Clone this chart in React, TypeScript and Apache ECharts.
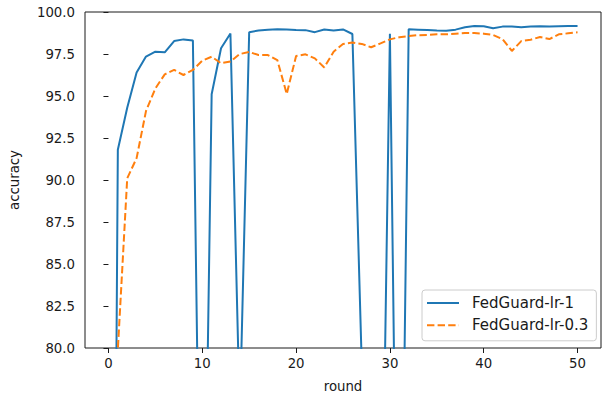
import React, { useEffect, useRef } from 'react';
import * as echarts from 'echarts';

const rounds = [
  0, 1, 2, 3, 4, 5, 6, 7, 8, 9, 10, 11, 12, 13, 14, 15, 16, 17, 18, 19, 20, 21, 22, 23, 24, 25,
  26, 27, 28, 29, 30, 31, 32, 33, 34, 35, 36, 37, 38, 39, 40, 41, 42, 43, 44, 45, 46, 47, 48, 49, 50,
];

const fedGuardLr1 = [
  10, 91.8, 94.3, 96.4, 97.35, 97.64, 97.6, 98.27, 98.37, 98.3,
  58, 95.1, 97.84, 98.72, 76, 98.8, 98.9, 98.95, 98.98, 98.96,
  98.93, 98.92, 98.8, 98.96, 98.9, 98.96, 98.69, 79, 40, 62,
  98.7, 55, 98.97, 98.95, 98.93, 98.9, 98.89, 98.95, 99.09, 99.17,
  99.15, 99.03, 99.13, 99.13, 99.09, 99.13, 99.15, 99.13, 99.15, 99.17, 99.17,
];

const fedGuardLr03 = [
  10, 79.9, 90.1, 91.3, 94.1, 95.45, 96.29, 96.55, 96.25, 96.55,
  97.1, 97.34, 96.95, 97.05, 97.5, 97.62, 97.44, 97.44, 97.14, 95.12,
  97.38, 97.48, 97.24, 96.7, 97.64, 98.1, 98.18, 98.1, 97.9, 98.13,
  98.37, 98.5, 98.57, 98.62, 98.63, 98.67, 98.67, 98.71, 98.75, 98.75,
  98.71, 98.63, 98.39, 97.68, 98.27, 98.35, 98.51, 98.39, 98.67, 98.73, 98.79,
];

const xTicks = [0, 10, 20, 30, 40, 50];

const FONT = 'DejaVu Sans';

export default function App() {
  const ref = useRef<HTMLDivElement>(null);

  useEffect(() => {
    if (!ref.current) return;
    const chart = echarts.init(ref.current, undefined, { renderer: 'svg' });
    const option: any = {
      animation: false,
      textStyle: { fontFamily: FONT },
      grid: {
        left: 85,
        right: 3,
        top: 12,
        bottom: 46,
        outerBoundsMode: 'none',
        containLabel: false,
        show: true,
        borderColor: '#1a1a1a',
        borderWidth: 1,
        backgroundColor: 'transparent',
      },
      xAxis: {
        type: 'value',
        min: -2.5,
        max: 52.5,
        axisLine: { show: false },
        splitLine: { show: false },
        axisTick: { show: true, length: 5, lineStyle: { color: '#1a1a1a' }, customValues: xTicks },
        axisLabel: {
          customValues: xTicks,
          margin: 9,
          fontSize: 13.3,
          color: '#1a1a1a',
          fontFamily: FONT,
        },
        name: 'round',
        nameLocation: 'middle',
        nameGap: 32,
        nameTextStyle: { fontSize: 13.3, lineHeight: 12, color: '#1a1a1a', fontFamily: FONT },
      },
      yAxis: {
        type: 'value',
        min: 80,
        max: 100,
        interval: 2.5,
        axisLine: { show: false },
        splitLine: { show: false },
        axisTick: { show: true, length: 5, lineStyle: { color: '#1a1a1a' } },
        axisLabel: {
          formatter: (v: number) => v.toFixed(1),
          margin: 10,
          fontSize: 13.3,
          color: '#1a1a1a',
          fontFamily: FONT,
        },
        name: 'accuracy',
        nameLocation: 'middle',
        nameGap: 64,
        nameRotate: 90,
        nameTextStyle: { fontSize: 13.3, color: '#1a1a1a', fontFamily: FONT },
      },
      legend: {
        orient: 'vertical',
        left: 422,
        top: 290,
        itemWidth: 32,
        itemHeight: 15,
        itemGap: 7.3,
        padding: [5.5, 8, 8, 4],
        borderColor: '#cccccc',
        borderWidth: 1,
        borderRadius: 3,
        backgroundColor: 'rgba(255,255,255,0.8)',
        itemStyle: { opacity: 0 },
        textStyle: { fontSize: 15, lineHeight: 15, color: '#1a1a1a', fontFamily: FONT, padding: [0, 0, 0, 8] },
        data: ['FedGuard-lr-1', 'FedGuard-lr-0.3'],
      },
      series: [
        {
          name: 'FedGuard-lr-1',
          type: 'line',
          data: rounds.map((r, i) => [r, fedGuardLr1[i]]),
          symbol: 'none',
          showSymbol: false,
          clip: true,
          lineStyle: { color: '#1f77b4', width: 2 },
          itemStyle: { color: '#1f77b4' },
        },
        {
          name: 'FedGuard-lr-0.3',
          type: 'line',
          data: rounds.map((r, i) => [r, fedGuardLr03[i]]),
          symbol: 'none',
          showSymbol: false,
          clip: true,
          lineStyle: { color: '#ff7f0e', width: 2, type: [7.4, 3.2] },
          itemStyle: { color: '#ff7f0e' },
        },
      ],
    };
    chart.setOption(option);
    return () => chart.dispose();
  }, []);

  return (
    <div
      ref={ref}
      style={{ position: 'fixed', left: 0, top: 0, width: 604, height: 394, background: '#fff' }}
    />
  );
}
